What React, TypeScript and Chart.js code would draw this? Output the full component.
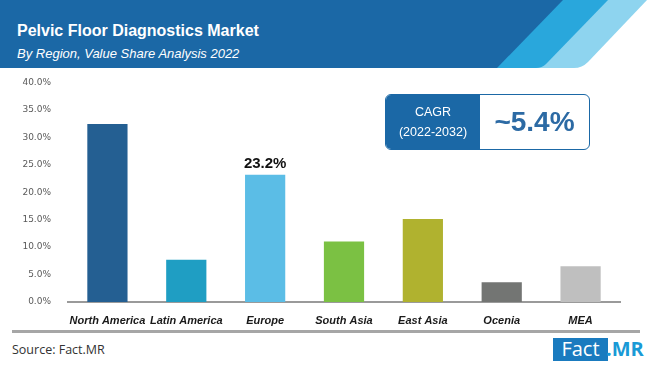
import React, { useEffect, useRef } from "react";
import { Chart, registerables } from "chart.js";

Chart.register(...registerables);

const categories = ["North America", "Latin America", "Europe", "South Asia", "East Asia", "Ocenia", "MEA"];
const shareValues = [32.4, 7.7, 23.2, 11.0, 15.1, 3.6, 6.5];
const barColors = ["#245f92", "#1f9ec3", "#5bbde6", "#7bc143", "#b0b22f", "#737573", "#bfbfbf"];
const highlightIndex = 2;
const highlightLabel = "23.2%";
const yTicks = { min: 0, max: 40, step: 5 };

const labelPlugin = {
  id: "highlightLabel",
  afterDatasetsDraw(chart: any) {
    const meta = chart.getDatasetMeta(0);
    const bar = meta.data[highlightIndex];
    if (!bar) return;
    const ctx = chart.ctx;
    ctx.save();
    ctx.font = "bold 15px 'Liberation Sans', Arial, sans-serif";
    ctx.fillStyle = "#111111";
    ctx.textAlign = "center";
    ctx.textBaseline = "bottom";
    ctx.fillText(highlightLabel, bar.x, bar.y - 3);
    ctx.restore();
  },
};

function BarChart() {
  const ref = useRef<HTMLCanvasElement | null>(null);
  useEffect(() => {
    if (!ref.current) return;
    const chart = new Chart(ref.current, {
      type: "bar",
      data: {
        labels: categories,
        datasets: [
          {
            data: shareValues,
            backgroundColor: barColors,
            borderWidth: 0,
            barPercentage: 0.51,
            categoryPercentage: 1,
          },
        ],
      },
      options: {
        animation: false,
        responsive: false,
        maintainAspectRatio: false,
        layout: { padding: { left: 0, right: 30, top: 12, bottom: 0 } },
        plugins: { legend: { display: false }, tooltip: { enabled: false } },
        scales: {
          x: {
            grid: { display: false },
            border: { display: true, color: "#9a9a9a", width: 2 },
            ticks: {
              color: "#1a1a1a",
              padding: 4,
              font: { family: "'Liberation Sans', Arial, sans-serif", size: 11, style: "italic", weight: "bold" },
              maxRotation: 0,
              autoSkip: false,
            },
            afterFit(scale: any) {
              scale.height = 28;
            },
          },
          y: {
            min: yTicks.min,
            max: yTicks.max,
            grid: { display: false },
            border: { display: false },
            ticks: {
              stepSize: yTicks.step,
              color: "#595959",
              padding: 9,
              font: { family: "'DejaVu Sans', sans-serif", size: 9 },
              callback: (v: any) => Number(v).toFixed(1) + "%",
            },
            afterFit(scale: any) {
              scale.width = 68;
            },
          },
        },
      },
      plugins: [labelPlugin],
    });
    return () => chart.destroy();
  }, []);
  return (
    <canvas
      ref={ref}
      width={650}
      height={262}
      style={{ position: "absolute", left: 0, top: 68, width: 650, height: 262 }}
    />
  );
}

export default function App() {
  useEffect(() => {
    document.body.style.margin = "0";
  }, []);
  return (
    <div style={{ position: "absolute", left: 0, top: 0, width: 650, height: 365, background: "#ffffff", overflow: "hidden" }}>
      <svg width={650} height={68} style={{ position: "absolute", left: 0, top: 0 }}>
        <path d="M0 0 L647 0 L588 62 Q582 68 574 68 L0 68 Z" fill="#8ed4ef" />
        <path d="M0 0 L608 0 L546 64 Q542 68 536 68 L0 68 Z" fill="#29a7dc" />
        <path d="M0 0 L563 0 L497 68 L0 68 Z" fill="#1b68a6" />
      </svg>
      <div
        style={{
          position: "absolute",
          left: 17,
          top: 22,
          color: "#ffffff",
          font: "bold 16px 'Liberation Sans', Arial, sans-serif",
          lineHeight: "18px",
          whiteSpace: "nowrap",
        }}
      >
        Pelvic Floor Diagnostics Market
      </div>
      <div
        style={{
          position: "absolute",
          left: 17,
          top: 46,
          color: "#ffffff",
          font: "italic 13px 'Liberation Sans', Arial, sans-serif",
          lineHeight: "16px",
          whiteSpace: "nowrap",
        }}
      >
        By Region, Value Share Analysis 2022
      </div>
      <BarChart />
      <div
        style={{
          position: "absolute",
          left: 385,
          top: 94,
          width: 205,
          height: 56,
          boxSizing: "border-box",
          border: "1.5px solid #1b68a6",
          borderRadius: 6,
          overflow: "hidden",
          display: "flex",
          background: "#ffffff",
        }}
      >
        <div
          style={{
            width: 94,
            background: "#1b68a6",
            color: "#ffffff",
            display: "flex",
            flexDirection: "column",
            alignItems: "center",
            justifyContent: "center",
            font: "12.5px 'Liberation Sans', Arial, sans-serif",
            lineHeight: "20px",
          }}
        >
          <div>CAGR</div>
          <div>(2022-2032)</div>
        </div>
        <div
          style={{
            flex: 1,
            display: "flex",
            alignItems: "center",
            justifyContent: "center",
            color: "#2c6aa4",
            font: "bold 28px 'Liberation Sans', Arial, sans-serif",
          }}
        >
          ~5.4%
        </div>
      </div>
      <div style={{ position: "absolute", left: 12, top: 330, width: 628, height: 3, background: "#a6a6a6" }} />
      <div
        style={{
          position: "absolute",
          left: 12,
          top: 341,
          color: "#333333",
          font: "12.5px 'Open Sans', sans-serif",
          whiteSpace: "nowrap",
        }}
      >
        Source: Fact.MR
      </div>
      <div style={{ position: "absolute", left: 553, top: 338, width: 55, height: 23, background: "#1a7bbf" }} />
      <div
        style={{
          position: "absolute",
          left: 553,
          top: 335,
          width: 55,
          textAlign: "center",
          color: "#ffffff",
          font: "20px 'Open Sans', sans-serif",
          lineHeight: "28px",
        }}
      >
        Fact
      </div>
      <div
        style={{
          position: "absolute",
          left: 606,
          top: 335,
          color: "#1a9ad6",
          font: "bold 20px 'Open Sans', sans-serif",
          lineHeight: "28px",
        }}
      >
        .MR
      </div>
    </div>
  );
}
